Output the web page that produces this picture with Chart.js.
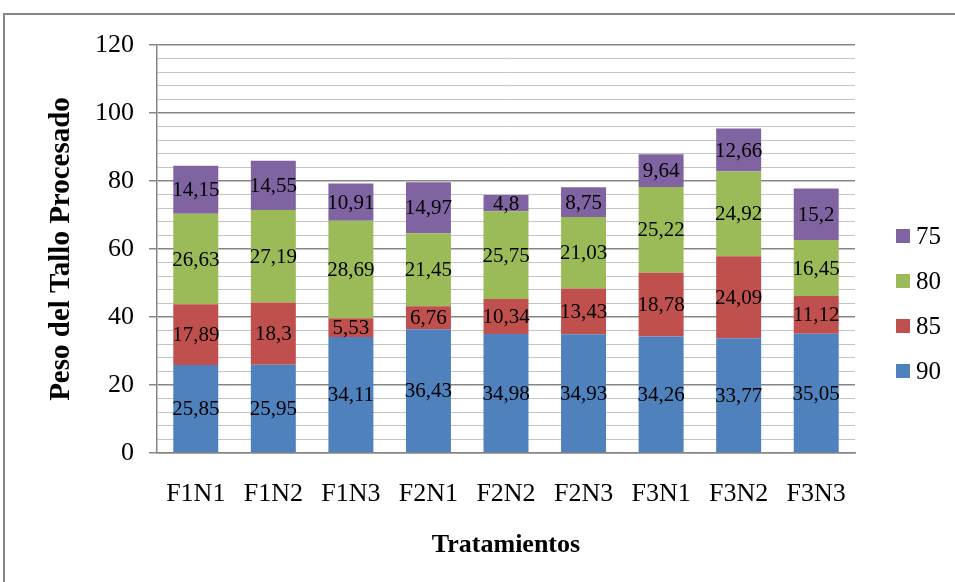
<!DOCTYPE html>
<html>
<head>
<meta charset="utf-8">
<script src="https://cdn.jsdelivr.net/npm/chart.js@4/dist/chart.umd.min.js"></script>
<style>
	body { margin: 0; background: #fff; overflow: hidden; }
	#frame { position: absolute; left: 3px; top: 13px; width: 1000px; height: 1000px; border: 2px solid #868686; }
	#wrap { position: absolute; left: 0; top: 0; width: 955px; height: 582px; }
</style>
</head>
<body>
<div id="frame"></div>
<div id="wrap"><canvas id="chart" width="955" height="582"></canvas></div>
<script>
const categories = ['F1N1', 'F1N2', 'F1N3', 'F2N1', 'F2N2', 'F2N3', 'F3N1', 'F3N2', 'F3N3'];
const seriesNames = ['90', '85', '80', '75'];
const values90 = [25.85, 25.95, 34.11, 36.43, 34.98, 34.93, 34.26, 33.77, 35.05];
const values85 = [17.89, 18.3, 5.53, 6.76, 10.34, 13.43, 18.78, 24.09, 11.12];
const values80 = [26.63, 27.19, 28.69, 21.45, 25.75, 21.03, 25.22, 24.92, 16.45];
const values75 = [14.15, 14.55, 10.91, 14.97, 4.8, 8.75, 9.64, 12.66, 15.2];
const seriesColors = ['#4F81BD', '#C0504D', '#9BBB59', '#8064A2'];

const FONT = '"Liberation Serif", "Times New Roman", serif';
const MAJOR = '#868686';
const MINOR = '#c4c4c4';

// etiquetas de valor centradas en cada segmento
const valueLabels = {
	id: 'valueLabels',
	afterDatasetsDraw(chart) {
		const ctx = chart.ctx;
		ctx.save();
		ctx.font = '21px ' + FONT;
		ctx.fillStyle = '#000';
		ctx.textAlign = 'center';
		ctx.textBaseline = 'middle';
		chart.data.datasets.forEach((ds, i) => {
			const meta = chart.getDatasetMeta(i);
			meta.data.forEach((bar, j) => {
				const y = (bar.y + bar.base) / 2;
				ctx.fillText(String(ds.data[j]).replace('.', ','), bar.x, y + 1);
			});
		});
		ctx.restore();
	}
};

// leyenda a la derecha, orden inverso
const sideLegend = {
	id: 'sideLegend',
	afterDraw(chart) {
		const ctx = chart.ctx;
		const ds = chart.data.datasets.slice().reverse();
		ctx.save();
		ctx.font = '25px ' + FONT;
		ctx.textBaseline = 'middle';
		ctx.textAlign = 'left';
		ds.forEach((d, i) => {
			const cy = 236 + i * 45;
			ctx.fillStyle = d.backgroundColor;
			ctx.fillRect(896, cy - 7, 14, 14);
			ctx.fillStyle = '#000';
			ctx.fillText(d.label, 916, cy + 1);
		});
		ctx.restore();
	}
};

const allValues = [values90, values85, values80, values75];

new Chart(document.getElementById('chart'), {
	type: 'bar',
	data: {
		labels: categories,
		datasets: seriesNames.map((name, i) => ({
			label: name,
			data: allValues[i],
			backgroundColor: seriesColors[i],
			borderWidth: 0,
			categoryPercentage: 1,
			barPercentage: 0.58
		}))
	},
	options: {
		responsive: false,
		animation: false,
		layout: {
			padding: { left: 0, top: 45, right: 100, bottom: 0 }
		},
		scales: {
			x: {
				stacked: true,
				grid: { display: false },
				border: { display: true, color: MAJOR, width: 1.5 },
				ticks: {
					color: '#000',
					font: { family: FONT, size: 26 },
					padding: 18
				},
				title: {
					display: true,
					text: 'Tratamientos',
					color: '#000',
					font: { family: FONT, size: 26, weight: 'bold' },
					padding: { top: 0, bottom: 21 }
				},
				afterFit(scale) { scale.height = 129; }
			},
			y: {
				stacked: true,
				min: 0,
				max: 120,
				border: { display: true, color: MAJOR, width: 1.5 },
				grid: {
					color: c => (c.tick && c.tick.value % 20 === 0) ? MAJOR : MINOR,
					lineWidth: c => (c.tick && c.tick.value % 20 === 0) ? 1.5 : 1,
					tickColor: c => (c.tick && c.tick.value % 20 === 0) ? MAJOR : 'rgba(0,0,0,0)',
					tickLength: 8
				},
				ticks: {
					stepSize: 4,
					autoSkip: false,
					color: '#000',
					font: { family: FONT, size: 26 },
					padding: 15,
					callback: v => (v % 20 === 0 ? v : '')
				},
				title: {
					display: true,
					text: 'Peso del Tallo Procesado',
					color: '#000',
					font: { family: FONT, size: 29, weight: 'bold' },
					padding: { top: 44, bottom: 0 }
				},
				afterFit(scale) { scale.width = 157; }
			}
		},
		plugins: {
			legend: { display: false },
			tooltip: { enabled: false }
		}
	},
	plugins: [valueLabels, sideLegend]
});
</script>
</body>
</html>
